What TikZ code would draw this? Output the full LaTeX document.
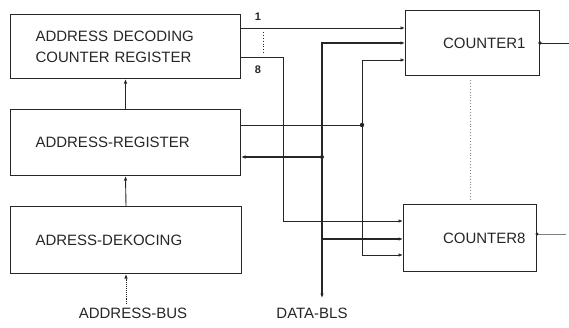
\documentclass[tikz,border=0pt]{standalone}
\usepackage{fontspec}
\setmainfont{Liberation Sans}
\usetikzlibrary{arrows.meta}
\definecolor{ink}{HTML}{262626}
\tikzset{
  blk/.style={draw=ink,line width=1pt,anchor=north west,align=left,inner ysep=0pt,
    text=ink,font=\fontsize{15}{21}\selectfont},
  cnt/.style={blk,align=right},
  lbl/.style={text=ink,font=\fontsize{15}{18}\selectfont},
  num/.style={text=ink,font=\fontsize{11}{13}\selectfont\bfseries},
  wire/.style={draw=ink,line width=0.9pt},
  bus/.style={draw=ink,line width=1.7pt}
}
\begin{document}
\begin{tikzpicture}[x=1pt,y=-1pt,>={Latex[length=4.5pt,width=3.5pt]}]
\useasboundingbox (0,0) rectangle (569,327);
% left blocks
\node[blk,minimum width=230pt,minimum height=64pt,text width=180pt,inner xsep=25pt] (adcr) at (10,14) {ADDRESS DECODING\\COUNTER REGISTER};
\node[blk,minimum width=230pt,minimum height=66pt,text width=180pt,inner xsep=25pt] (areg) at (10,109) {ADDRESS-REGISTER};
\node[blk,minimum width=231pt,minimum height=67pt,text width=181pt,inner xsep=25pt] (adec) at (10,206) {ADRESS-DEKOCING};
% counters
\node[cnt,minimum width=134pt,minimum height=65pt,text width=106pt,inner xsep=14pt] (c1) at (405,10) {COUNTER1};
\node[cnt,minimum width=133pt,minimum height=67pt,text width=111pt,inner xsep=11pt] (c8) at (403,204) {COUNTER8};
% bus labels
\node[lbl] (abus) at (133,313) {ADDRESS-BUS};
\node[lbl] (dbus) at (312,313) {DATA-BLS};
\node[num] (n1) at (258,17) {1};
\node[num] (n8) at (258,70) {8};
\draw[ink,dotted,line width=0.8pt] (n1.south -| 263,0) ++(0,8) -- (263,52);
% counter inputs
\coordinate (c1a) at (c1.west |- 0,28);
\coordinate (c1b) at (c1.west |- 0,43);
\coordinate (c1c) at (c1.west |- 0,60);
\coordinate (c8a) at (c8.west |- 0,221);
\coordinate (c8b) at (c8.west |- 0,239);
\coordinate (c8c) at (c8.west |- 0,255);
\coordinate (dtop) at (322,43);
\coordinate (dbot) at (322,298);
\coordinate (ajoin) at (362,125);
% address lines
\draw[wire,->] (adcr.east |- c1a) -- (c1a);
\draw[wire,->] (adcr.east |- 0,57) -- (283,57) |- (c8a);
\draw[wire] (areg.east |- ajoin) -- (ajoin);
\draw[wire,->] (ajoin) |- (c1c);
\draw[wire,->] (ajoin) |- (c8c);
\fill[ink] (ajoin) circle (2.2pt);
% data bus
\draw[bus,<->] (dbot) -- (dtop) -- (c1b);
\draw[wire,line width=1.2pt,->] (dtop |- c8b) -- (c8b);
\draw[wire,line width=1.2pt,->] (dtop |- 0,157) -- (areg.east |- 0,157);
\fill[ink] (dtop |- 0,157) circle (2pt);
% vertical flow
\draw[wire,->] (areg.north) -- (adcr.south);
\draw[wire,->] (adec.north) -- (areg.south);
\draw[wire,densely dotted,->] (adec.south |- abus.north) -- (adec.south);
% outputs
\draw[wire] (c1.east) -- ++(30,0) coordinate (c1out);
\fill[ink] (c1.east) circle (1.8pt);
\draw[wire,gray] (c8.east |- 0,234) -- ++(29,0) coordinate (c8out);
\fill[ink] (c8.east |- 0,234) circle (1.6pt);
\draw[gray,dotted,line width=0.9pt] ([yshift=-4pt]c1.south -| c8.north) -- ([yshift=4pt]c8.north);
\end{tikzpicture}
\end{document}
